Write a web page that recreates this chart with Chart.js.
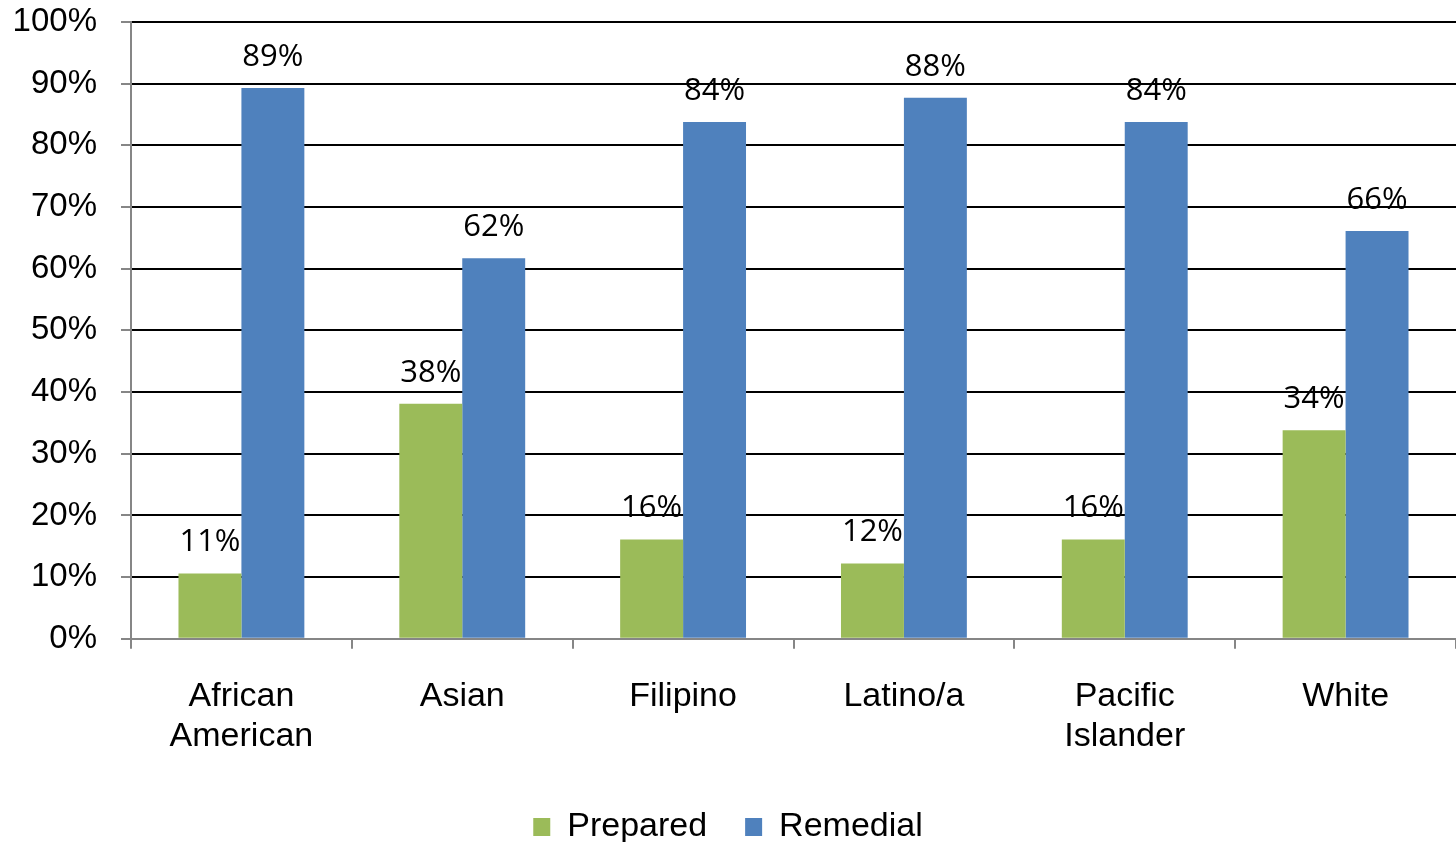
<!DOCTYPE html>
<html lang="en">
<head>
    <meta charset="UTF-8">
    <title>Prepared vs Remedial</title>
    <script src="https://cdn.jsdelivr.net/npm/chart.js"></script>
    <style>
        html, body {
            margin: 0;
            padding: 0;
            background: #ffffff;
            overflow: hidden;
        }
    </style>
</head>
<body>
    <canvas id="chart" width="1456" height="842"></canvas>

    <script>
        // Data
        const categories = [['African', 'American'], 'Asian', 'Filipino', 'Latino/a', ['Pacific', 'Islander'], 'White'];
        const prepared = [10.6, 38.1, 16.1, 12.2, 16.1, 33.8];
        const remedial = [89.3, 61.7, 83.8, 87.7, 83.8, 66.1];
        const preparedLabels = ['11%', '38%', '16%', '12%', '16%', '34%'];
        const remedialLabels = ['89%', '62%', '84%', '88%', '84%', '66%'];

        const GREEN = '#9BBB59';
        const BLUE = '#4F81BD';
        const AXIS_GRAY = '#868686';
        const FONT = '"Liberation Sans", Arial';

        // draws the percentage above each bar
        const barLabels = {
            id: 'barLabels',
            afterDatasetsDraw(chart) {
                const ctx = chart.ctx;
                ctx.save();
                ctx.font = '31px "Open Sans"';
                ctx.fillStyle = '#000';
                ctx.textAlign = 'center';
                ctx.textBaseline = 'middle';
                chart.data.datasets.forEach((ds, di) => {
                    const meta = chart.getDatasetMeta(di);
                    meta.data.forEach((bar, i) => {
                        ctx.fillText(ds.valueLabels[i], bar.x, bar.y - 31);
                    });
                });
                ctx.restore();
            }
        };

        // legend sits close to the bottom edge, trim its box
        const legendTrim = {
            id: 'legendTrim',
            beforeInit(chart) {
                const origFit = chart.legend.fit;
                chart.legend.fit = function () {
                    origFit.bind(chart.legend)();
                    this.height -= 12;
                };
            }
        };

        new Chart(document.getElementById('chart'), {
            type: 'bar',
            data: {
                labels: categories,
                datasets: [
                    {
                        label: 'Prepared',
                        data: prepared,
                        valueLabels: preparedLabels,
                        backgroundColor: GREEN,
                        barPercentage: 1,
                        categoryPercentage: 0.57
                    },
                    {
                        label: 'Remedial',
                        data: remedial,
                        valueLabels: remedialLabels,
                        backgroundColor: BLUE,
                        barPercentage: 1,
                        categoryPercentage: 0.57
                    }
                ]
            },
            options: {
                responsive: false,
                animation: false,
                layout: {
                    padding: { top: 22, left: 0, right: 0, bottom: 0 }
                },
                scales: {
                    x: {
                        grid: {
                            display: true,
                            drawOnChartArea: false,
                            offset: true,
                            tickLength: 10,
                            color: AXIS_GRAY,
                            lineWidth: 2
                        },
                        border: { color: AXIS_GRAY, width: 2 },
                        ticks: {
                            color: '#000',
                            padding: 28,
                            font: { family: FONT, size: 34, lineHeight: 1.18 }
                        },
                        afterFit: scale => { scale.height -= 13; }
                    },
                    y: {
                        min: 0,
                        max: 100,
                        grid: {
                            color: ctx => ctx.tick && ctx.tick.value === 0 ? AXIS_GRAY : '#000',
                            lineWidth: 2,
                            tickLength: 10,
                            tickColor: AXIS_GRAY
                        },
                        border: { color: AXIS_GRAY, width: 2 },
                        ticks: {
                            stepSize: 10,
                            color: '#000',
                            padding: 24,
                            font: { family: FONT, size: 33 },
                            callback: v => v + '%'
                        },
                        afterFit: scale => {
                            scale.width = 131;
                            scale.paddingTop = 0;
                            scale.paddingBottom = 0;
                        }
                    }
                },
                plugins: {
                    legend: {
                        position: 'bottom',
                        labels: {
                            color: '#000',
                            boxWidth: 17,
                            boxHeight: 18,
                            padding: 38,
                            font: { family: FONT, size: 34 }
                        }
                    },
                    tooltip: { enabled: false }
                }
            },
            plugins: [barLabels, legendTrim]
        });
    </script>
</body>
</html>
